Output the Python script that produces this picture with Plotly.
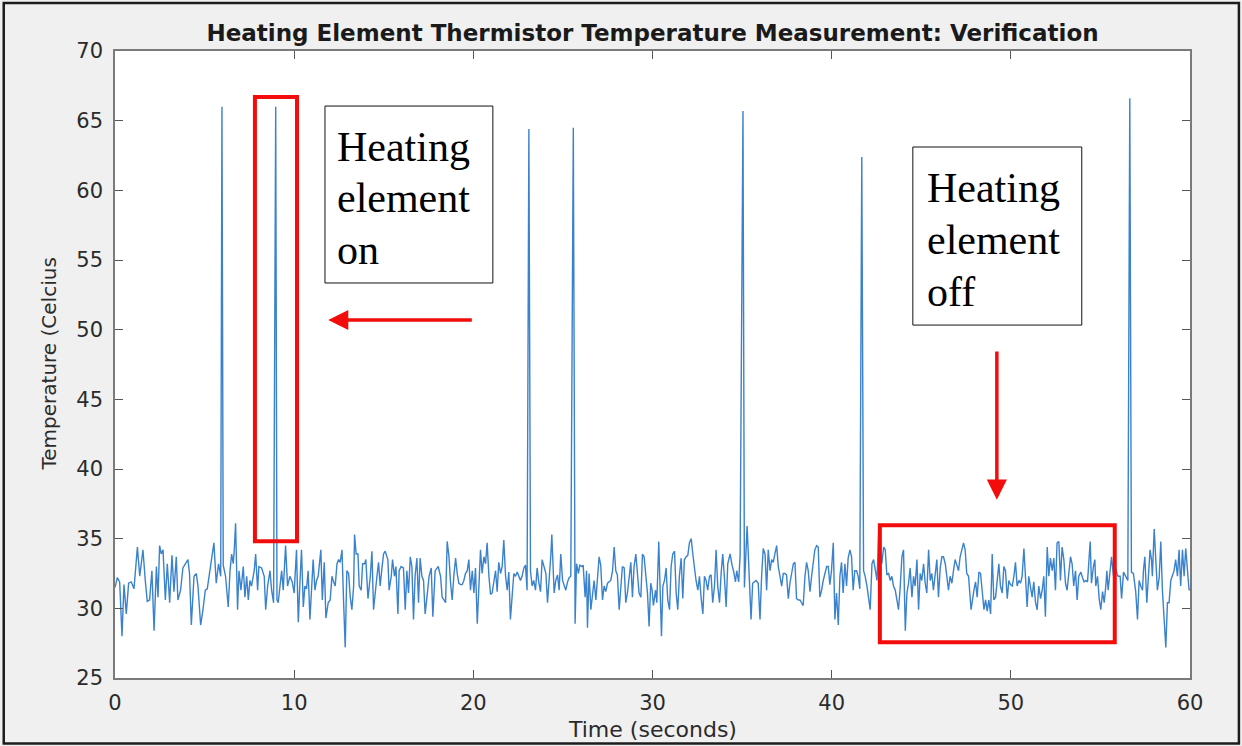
import plotly.graph_objects as go

# ---- data ----
time_s = [
    0.0, 0.13, 0.26, 0.39, 0.5, 0.63, 0.76, 0.91, 1.06, 1.25, 1.38, 1.56, 1.69, 1.8, 1.93, 2.06, 2.18, 2.31, 2.4, 2.49,
    2.58, 2.68, 2.81, 2.92, 3.05, 3.18, 3.29, 3.42, 3.51, 3.66, 3.79, 3.92, 4.07, 4.16, 4.26, 4.41, 4.54, 4.63, 4.78, 4.91,
    5.04, 5.15, 5.28, 5.41, 5.52, 5.65, 5.78, 5.9, 5.97, 6.04, 6.17, 6.32, 6.42, 6.51, 6.6, 6.66, 6.73, 6.84, 6.92, 7.03,
    7.16, 7.25, 7.35, 7.44, 7.53, 7.62, 7.77, 7.85, 7.96, 8.03, 8.18, 8.33, 8.41, 8.52, 8.65, 8.74, 8.85, 8.97, 9.04, 9.11,
    9.22, 9.3, 9.39, 9.52, 9.63, 9.76, 9.89, 10.0, 10.13, 10.23, 10.32, 10.41, 10.51, 10.6, 10.69, 10.78, 10.88, 10.97, 11.06, 11.16,
    11.25, 11.34, 11.49, 11.57, 11.68, 11.77, 11.9, 12.01, 12.11, 12.2, 12.29, 12.39, 12.48, 12.57, 12.67, 12.76, 12.85, 12.94, 13.04, 13.13,
    13.22, 13.32, 13.37, 13.46, 13.56, 13.63, 13.74, 13.82, 13.93, 14.0, 14.12, 14.25, 14.34, 14.43, 14.52, 14.62, 14.71, 14.8, 14.9, 14.99,
    15.08, 15.23, 15.3, 15.42, 15.49, 15.6, 15.68, 15.79, 15.86, 15.97, 16.1, 16.2, 16.29, 16.38, 16.48, 16.57, 16.66, 16.75, 16.85, 16.94,
    17.03, 17.13, 17.22, 17.31, 17.46, 17.53, 17.65, 17.74, 17.87, 18.04, 18.17, 18.26, 18.36, 18.45, 18.54, 18.64, 18.73, 18.82, 18.91, 19.01,
    19.1, 19.19, 19.29, 19.38, 19.47, 19.56, 19.66, 19.75, 19.84, 19.94, 20.03, 20.12, 20.22, 20.31, 20.4, 20.49, 20.59, 20.68, 20.77, 20.87,
    20.96, 21.05, 21.14, 21.24, 21.33, 21.42, 21.52, 21.61, 21.7, 21.8, 21.89, 21.98, 22.07, 22.17, 22.26, 22.35, 22.45, 22.54, 22.63, 22.72,
    22.82, 22.91, 23.0, 23.1, 23.19, 23.28, 23.37, 23.47, 23.56, 23.65, 23.75, 23.84, 23.95, 24.05, 24.14, 24.23, 24.33, 24.38, 24.46, 24.51,
    24.6, 24.7, 24.79, 24.88, 24.98, 25.07, 25.16, 25.26, 25.35, 25.44, 25.58, 25.68, 25.76, 25.87, 25.94, 26.06, 26.13, 26.24, 26.32, 26.37,
    26.46, 26.56, 26.65, 26.74, 26.84, 26.93, 27.02, 27.11, 27.21, 27.3, 27.39, 27.49, 27.58, 27.67, 27.77, 27.86, 27.95, 28.04, 28.14, 28.23,
    28.32, 28.42, 28.51, 28.6, 28.69, 28.79, 28.88, 28.97, 29.07, 29.16, 29.25, 29.35, 29.44, 29.53, 29.62, 29.72, 29.81, 29.9, 29.98, 30.05,
    30.17, 30.24, 30.35, 30.43, 30.5, 30.58, 30.67, 30.76, 30.85, 30.95, 31.04, 31.13, 31.23, 31.32, 31.41, 31.5, 31.6, 31.69, 31.78, 31.88,
    31.97, 32.06, 32.16, 32.25, 32.34, 32.43, 32.53, 32.62, 32.71, 32.81, 32.9, 32.99, 33.08, 33.18, 33.27, 33.36, 33.46, 33.55, 33.64, 33.74,
    33.83, 33.92, 34.01, 34.11, 34.2, 34.33, 34.44, 34.52, 34.63, 34.7, 34.81, 34.89, 35.05, 35.13, 35.28, 35.5, 35.59, 35.78, 35.9, 36.0,
    36.09, 36.18, 36.28, 36.37, 36.46, 36.56, 36.65, 36.74, 36.83, 36.93, 37.02, 37.11, 37.21, 37.3, 37.39, 37.48, 37.58, 37.67, 37.76, 37.86,
    37.95, 38.04, 38.14, 38.23, 38.32, 38.41, 38.51, 38.6, 38.69, 38.79, 38.88, 38.97, 39.06, 39.16, 39.25, 39.34, 39.44, 39.53, 39.62, 39.72,
    39.81, 39.9, 39.99, 40.09, 40.18, 40.27, 40.37, 40.46, 40.55, 40.64, 40.74, 40.83, 40.92, 41.02, 41.11, 41.2, 41.29, 41.39, 41.48, 41.57,
    41.68, 41.78, 41.87, 41.97, 42.15, 42.25, 42.34, 42.43, 42.53, 42.62, 42.71, 42.8, 42.9, 42.99, 43.08, 43.18, 43.27, 43.36, 43.45, 43.55,
    43.64, 43.73, 43.83, 43.92, 44.01, 44.11, 44.2, 44.29, 44.38, 44.48, 44.57, 44.66, 44.76, 44.85, 44.94, 45.03, 45.13, 45.22, 45.31, 45.41,
    45.5, 45.59, 45.68, 45.78, 45.87, 45.96, 46.06, 46.15, 46.24, 46.34, 46.43, 46.52, 46.61, 46.71, 46.8, 46.89, 46.99, 47.08, 47.17, 47.26,
    47.36, 47.45, 47.54, 47.64, 47.78, 47.94, 48.03, 48.12, 48.22, 48.31, 48.4, 48.5, 48.59, 48.68, 48.77, 48.87, 48.96, 49.05, 49.15, 49.24,
    49.33, 49.42, 49.52, 49.61, 49.7, 49.8, 49.89, 49.98, 50.08, 50.17, 50.26, 50.35, 50.45, 50.54, 50.63, 50.73, 50.82, 50.91, 51.0, 51.1,
    51.19, 51.28, 51.38, 51.47, 51.56, 51.66, 51.75, 51.84, 51.93, 52.03, 52.12, 52.21, 52.31, 52.4, 52.49, 52.58, 52.68, 52.77, 52.86, 52.96,
    53.05, 53.14, 53.23, 53.33, 53.42, 53.51, 53.61, 53.7, 53.79, 53.91, 54.0, 54.09, 54.19, 54.28, 54.43, 54.5, 54.61, 54.69, 54.74, 54.84,
    54.93, 55.02, 55.12, 55.21, 55.3, 55.36, 55.43, 55.54, 55.62, 55.73, 55.8, 55.92, 55.99, 56.1, 56.18, 56.29, 56.42, 56.53, 56.64, 56.73,
    56.84, 56.97, 57.07, 57.16, 57.25, 57.35, 57.4, 57.48, 57.59, 57.66, 57.77, 57.85, 57.9, 58.0, 58.09, 58.18, 58.28, 58.37, 58.46, 58.55,
    58.65, 58.74, 58.83, 58.93, 59.02, 59.11, 59.2, 59.3, 59.39, 59.48, 59.58, 59.67, 59.76, 59.86, 59.95, 60.0,
]

temp_c = [
    31.5, 32.2, 31.9, 28.0, 31.7, 29.6, 31.8, 31.9, 31.4, 34.4, 32.3, 34.2, 32.0, 30.5, 30.6, 32.7, 28.4, 33.0, 30.8, 34.5,
    33.9, 34.2, 30.6, 33.2, 30.4, 33.8, 31.2, 33.7, 30.6, 31.3, 32.9, 33.2, 33.5, 32.5, 28.8, 32.3, 32.5, 31.6, 28.8, 29.9,
    31.3, 31.4, 32.5, 33.9, 34.7, 31.8, 33.2, 32.3, 66.0, 33.1, 32.3, 30.1, 32.7, 33.9, 33.2, 34.3, 36.1, 29.9, 32.7, 31.3,
    33.0, 30.8, 32.3, 30.6, 32.0, 31.6, 32.7, 33.9, 31.3, 33.0, 32.9, 32.3, 29.9, 31.6, 32.7, 31.3, 30.4, 66.0, 30.6, 30.4,
    31.6, 32.7, 31.3, 34.5, 31.6, 32.3, 31.9, 31.1, 34.2, 29.0, 31.8, 34.2, 30.1, 31.6, 31.4, 32.7, 29.2, 31.1, 33.5, 31.3,
    32.0, 32.3, 34.2, 30.6, 33.3, 29.3, 30.4, 30.6, 32.3, 31.9, 31.6, 33.2, 33.5, 33.3, 34.2, 30.4, 27.2, 32.7, 32.5, 30.8,
    29.9, 31.6, 35.3, 33.9, 33.9, 31.6, 31.3, 33.2, 33.2, 33.5, 30.7, 32.3, 34.1, 29.9, 31.3, 32.3, 33.3, 31.6, 32.9, 33.9,
    34.1, 33.5, 31.3, 32.3, 33.5, 32.3, 33.0, 29.6, 32.7, 33.0, 32.9, 29.9, 32.7, 31.1, 33.7, 33.0, 29.2, 32.3, 33.6, 30.4,
    33.6, 32.3, 32.0, 29.6, 31.4, 32.3, 32.9, 29.4, 32.7, 33.0, 32.3, 30.8, 30.6, 30.4, 34.8, 33.7, 31.8, 30.6, 32.3, 33.6,
    32.5, 31.8, 31.7, 31.7, 32.0, 32.5, 32.7, 33.5, 31.3, 32.7, 31.1, 32.9, 28.9, 31.1, 34.2, 32.5, 33.7, 33.2, 34.7, 32.3,
    31.0, 31.1, 32.0, 32.7, 31.2, 33.3, 32.5, 33.0, 34.9, 32.3, 31.3, 32.6, 29.2, 30.8, 32.5, 32.3, 32.6, 32.3, 32.0, 32.3,
    32.9, 33.1, 31.3, 64.4, 32.7, 31.6, 32.0, 31.3, 32.9, 31.9, 31.2, 33.5, 32.9, 32.5, 30.4, 31.8, 33.9, 35.3, 32.3, 31.1,
    32.0, 32.4, 31.3, 33.9, 32.0, 31.7, 31.3, 31.9, 32.2, 32.3, 64.5, 28.9, 33.2, 32.5, 33.1, 33.0, 33.1, 30.8, 32.7, 28.6,
    32.5, 29.9, 31.1, 32.0, 30.6, 32.5, 33.7, 33.1, 30.6, 31.6, 31.2, 31.8, 31.9, 32.0, 32.7, 34.4, 32.7, 32.4, 29.9, 31.3,
    33.0, 32.9, 30.4, 31.1, 32.3, 33.3, 30.8, 33.0, 33.9, 32.3, 31.1, 30.8, 33.9, 33.7, 32.3, 31.1, 28.7, 31.8, 31.3, 30.2,
    31.3, 30.4, 34.8, 30.6, 28.0, 31.6, 32.0, 32.9, 30.6, 29.9, 33.0, 33.9, 34.1, 31.1, 29.9, 32.3, 33.6, 30.7, 33.5, 33.7,
    33.8, 34.7, 35.0, 33.9, 32.9, 32.0, 31.3, 32.3, 30.8, 29.6, 32.3, 32.0, 31.3, 32.3, 32.4, 30.4, 31.6, 34.2, 31.6, 30.4,
    32.5, 33.9, 32.3, 30.1, 33.2, 33.9, 33.1, 32.7, 31.9, 32.7, 31.9, 33.8, 65.7, 31.5, 35.9, 29.2, 31.8, 32.0, 31.8, 29.2,
    32.3, 34.3, 33.9, 31.3, 34.2, 32.7, 33.5, 33.3, 33.9, 34.5, 33.0, 32.3, 31.6, 32.5, 32.5, 32.4, 30.7, 31.8, 32.6, 33.2,
    33.3, 30.7, 30.6, 30.6, 30.4, 30.2, 32.3, 33.3, 32.7, 31.2, 32.3, 33.2, 34.2, 34.5, 34.4, 30.8, 31.3, 32.0, 32.5, 33.0,
    33.0, 31.7, 32.7, 34.7, 29.2, 31.1, 28.8, 32.3, 33.3, 31.1, 33.2, 31.6, 33.6, 34.2, 33.7, 31.3, 32.7, 32.7, 32.3, 31.4,
    62.4, 32.7, 32.3, 31.6, 29.9, 33.2, 33.5, 32.7, 32.0, 35.4, 34.2, 33.2, 34.4, 34.2, 32.4, 32.5, 32.0, 32.3, 31.6, 31.3,
    30.6, 29.9, 31.6, 33.7, 34.2, 28.4, 31.1, 31.8, 32.9, 30.8, 32.3, 31.6, 33.5, 29.9, 32.5, 32.0, 33.2, 31.8, 31.1, 34.2,
    32.0, 32.5, 31.3, 32.3, 33.5, 30.8, 32.9, 33.7, 33.7, 33.2, 32.3, 31.3, 32.3, 31.8, 32.7, 33.5, 33.1, 32.7, 33.7, 34.2,
    34.7, 34.2, 32.5, 32.3, 29.9, 31.3, 31.9, 30.8, 32.6, 32.5, 31.3, 29.9, 30.6, 29.8, 30.6, 29.6, 33.9, 30.6, 30.8, 32.3,
    33.2, 31.6, 31.1, 33.0, 32.7, 30.7, 32.0, 31.7, 31.6, 32.3, 33.3, 31.6, 32.0, 31.8, 32.3, 34.3, 32.3, 30.1, 32.3, 31.3,
    30.8, 31.9, 30.4, 29.9, 31.6, 30.7, 31.3, 32.3, 29.4, 34.4, 32.3, 33.6, 32.7, 33.6, 31.3, 34.7, 34.8, 32.0, 34.4, 33.5,
    31.8, 31.3, 32.3, 33.7, 33.2, 31.6, 32.7, 30.6, 32.3, 32.6, 32.2, 31.9, 32.0, 31.9, 34.8, 31.8, 33.0, 33.5, 31.6, 32.3,
    30.7, 29.9, 31.2, 30.4, 31.6, 32.7, 31.3, 32.5, 33.7, 32.3, 33.1, 32.5, 32.3, 32.3, 30.7, 32.6, 32.3, 32.0, 66.6, 32.6,
    32.5, 31.2, 29.2, 32.0, 31.6, 31.3, 32.7, 33.7, 30.4, 32.3, 34.2, 33.5, 32.3, 35.7, 33.5, 31.3, 32.2, 34.8, 31.3, 29.4,
    27.2, 30.4, 30.4, 32.0, 32.3, 32.7, 33.5, 32.3, 34.2, 31.6, 34.2, 32.3, 34.3, 33.0, 31.3, 31.4,
]

x_ticks = [0, 10, 20, 30, 40, 50, 60]
y_ticks = [25, 30, 35, 40, 45, 50, 55, 60, 65, 70]

title_text = "Heating Element Thermistor Temperature Measurement: Verification"
x_label = "Time (seconds)"
y_label = "Temperature (Celcius"
box_on_lines = ["Heating", "element", "on"]
box_off_lines = ["Heating", "element", "off"]

RED = "#f20c0c"
SERIF = dict(family="Liberation Serif", size=42, color="black")

fig = go.Figure()
fig.add_trace(go.Scatter(
    x=time_s, y=temp_c, mode="lines",
    line=dict(color="#3a82cc", width=1.4),
    showlegend=False, hoverinfo="skip",
))

axis_common = dict(
    showgrid=False, zeroline=False, showline=True, mirror="ticks",
    linecolor="#7a7a7a", linewidth=1.5,
    ticks="inside", ticklen=8, tickwidth=1.2, tickcolor="#555555",
    tickfont=dict(family="DejaVu Sans", size=21, color="#2b2b2b"),
)

fig.update_xaxes(range=[0, 60], tickvals=x_ticks, ticklabelstandoff=5, **axis_common)
fig.update_yaxes(range=[25, 70], tickvals=y_ticks, ticklabelstandoff=6, **axis_common)

shapes = [
    # figure frame
    dict(type="rect", xref="paper", yref="paper", x0=-0.1035, x1=1.0455, y0=-0.1045, y1=1.0765,
         line=dict(color="#1c1c1c", width=2.5), layer="above"),
    # red box around spike
    dict(type="rect", xref="x", yref="y", x0=7.81, x1=10.16, y0=34.82, y1=66.7,
         line=dict(color=RED, width=4)),
    # red box around quiet region
    dict(type="rect", xref="x", yref="y", x0=42.69, x1=55.8, y0=27.57, y1=35.97,
         line=dict(color=RED, width=4)),
    # text boxes
    dict(type="rect", xref="x", yref="y", x0=11.72, x1=21.09, y0=53.35, y1=66.05,
         line=dict(color="#111111", width=1), fillcolor="white"),
    dict(type="rect", xref="x", yref="y", x0=44.53, x1=53.96, y0=50.33, y1=63.11,
         line=dict(color="#111111", width=1), fillcolor="white"),
]

annotations = []
for word, yv in zip(box_on_lines, [63.11, 59.45, 55.71]):
    annotations.append(dict(text=word, x=12.3, y=yv, xref="x", yref="y",
                            xanchor="left", yanchor="middle", showarrow=False, font=SERIF))
for word, yv in zip(box_off_lines, [60.17, 56.43, 52.7]):
    annotations.append(dict(text=word, x=45.2, y=yv, xref="x", yref="y",
                            xanchor="left", yanchor="middle", showarrow=False, font=SERIF))

annotations += [
    # left-pointing arrow
    dict(text="", x=11.9, y=50.69, ax=20.0, ay=50.69, xref="x", yref="y", axref="x", ayref="y",
         showarrow=True, arrowhead=2, arrowsize=1.15, arrowwidth=3.5, arrowcolor=RED),
    # down-pointing arrow
    dict(text="", x=49.22, y=37.8, ax=49.22, ay=48.54, xref="x", yref="y", axref="x", ayref="y",
         showarrow=True, arrowhead=2, arrowsize=1.15, arrowwidth=3.5, arrowcolor=RED),
    # axis titles
    dict(text=x_label, x=0.5, y=-0.0815, xref="paper", yref="paper", showarrow=False,
         xanchor="center", yanchor="middle",
         font=dict(family="DejaVu Sans", size=22, color="#2b2b2b")),
    dict(text=y_label, x=-0.0623, y=0.5, xref="paper", yref="paper", showarrow=False,
         xanchor="center", yanchor="middle", textangle=-90,
         font=dict(family="DejaVu Sans", size=20, color="#2b2b2b")),
]

fig.update_layout(
    width=1242, height=746,
    margin=dict(l=115, r=52, t=51, b=68, pad=0),
    paper_bgcolor="#f0f0f0", plot_bgcolor="white",
    title=dict(text="<b>" + title_text + "</b>", xref="paper", x=0.5, xanchor="center",
               y=1 - 33 / 746, yanchor="middle",
               font=dict(family="DejaVu Sans", size=23, color="#1a1a1a")),
    shapes=shapes, annotations=annotations,
)

fig.write_html("out.html")
